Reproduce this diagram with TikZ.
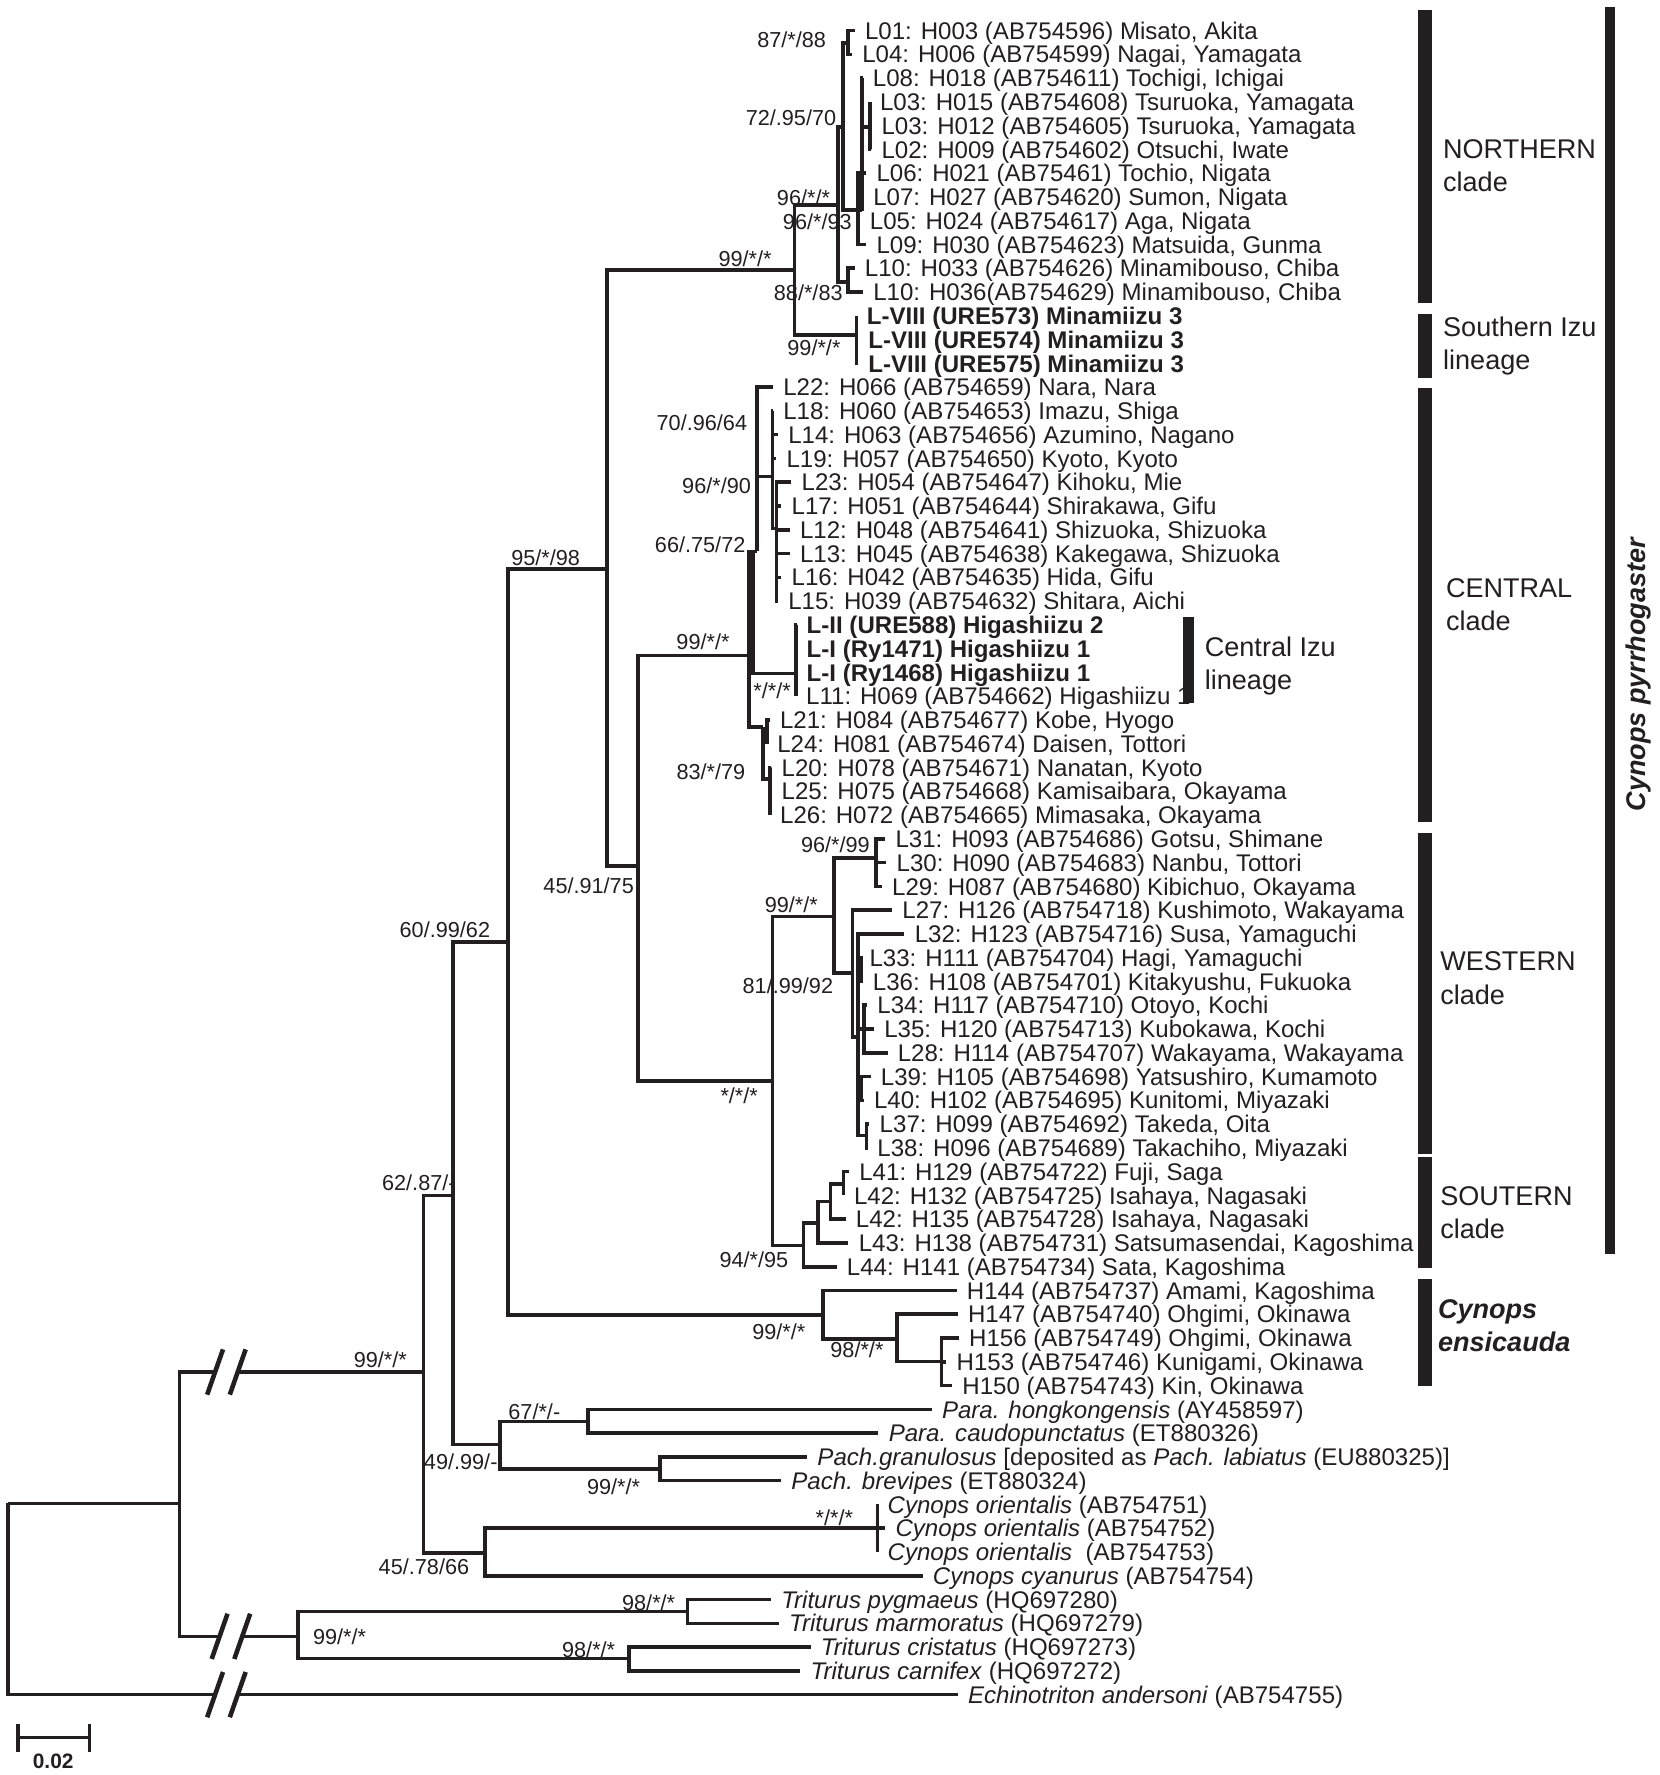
\documentclass[tikz,border=0pt]{standalone}
\usepackage{fontspec}
\setmainfont{Liberation Sans}
\definecolor{treeink}{HTML}{231F20}

\begin{document}
\begin{tikzpicture}[
    x=0.02cm, y=-0.02cm,
    br/.style={draw=treeink, line width=1.8pt},
    brkmark/.style={draw=treeink, line width=2.3pt},
    leaf/.style={anchor=west, inner xsep=5pt, inner ysep=0pt, text height=8.7pt, text depth=0pt, text=treeink, font=\fontsize{12.1}{14}\selectfont},
    boldleaf/.style={leaf, font=\fontsize{12.1}{14}\selectfont\bfseries},
    support/.style={inner sep=0pt, text height=7.8pt, text depth=0pt, text=treeink, font=\fontsize{10.9}{13}\selectfont},
    cladetext/.style={anchor=base west, inner sep=0pt, text=treeink, font=\fontsize{13.6}{16}\selectfont},
    cladebar/.style={draw=treeink, line width=6.8pt},
    axbreak/.pic={
        \fill[white] (-17,20) -- (-3,-20) -- (17,-20) -- (3,20) -- cycle;
        \draw[brkmark] (-17,20) -- (-3,-20);
        \draw[brkmark] (3,20) -- (17,-20);
    },
]
    \useasboundingbox (0,0) rectangle (1466,1568);

    % =====================================================================
    % internal nodes
    % =====================================================================
    \coordinate (root) at (7,1328);
    \coordinate (outg) at (158.7,1328);
    \coordinate (ingr) at (374,1212);
    \coordinate (trit) at (263.4,1445.5);
    \coordinate (n60) at (400.4,1056);
    \coordinate (cyno) at (428.3,1372);
    \coordinate (n95) at (449,832);
    \coordinate (ppnode) at (441.6,1276);
    \coordinate (n45) at (536,502.8);
    \coordinate (ensi) at (727.2,1161.4);

    % northern + southern Izu
    \coordinate (north) at (702,238.5);
    \coordinate (nq) at (740.4,181);
    \coordinate (nr) at (744.8,112);
    \coordinate (n0104) at (749.2,38);
    \coordinate (ns) at (758,185.5);
    \coordinate (nt) at (761.5,186);
    \coordinate (n3) at (768.3,112);
    \coordinate (nl10) at (749.2,249);
    \coordinate (sizu) at (756.6,296);

    % central
    \coordinate (wsn) at (563.7,765);
    \coordinate (nd) at (661.8,579);
    \coordinate (ne) at (665.3,487);
    \coordinate (na) at (668.8,487);
    \coordinate (nb) at (682.4,421);
    \coordinate (nc) at (686,467);
    \coordinate (hig) at (703,595);
    \coordinate (nf) at (674,642);
    \coordinate (ng) at (677.5,646);
    \coordinate (nh) at (680,688);

    % western + soutern
    \coordinate (wwn) at (682.5,955);
    \coordinate (x1) at (736.5,809.6);
    \coordinate (x2) at (774,758.1);
    \coordinate (x4) at (752.9,859.7);
    \coordinate (x5) at (757.8,916);
    \coordinate (ca) at (760.7,856);
    \coordinate (cb) at (763.2,909);
    \coordinate (cc) at (761.2,961);
    \coordinate (cd) at (765.6,1003);
    \coordinate (s1) at (709.8,1100.4);
    \coordinate (s2) at (722.5,1080.4);
    \coordinate (s3) at (733.8,1061.3);
    \coordinate (s4) at (745.3,1046);

    % ensicauda + outgroups
    \coordinate (e2) at (792.5,1182.8);
    \coordinate (e3) at (831.6,1202.6);
    \coordinate (para) at (519.6,1255.6);
    \coordinate (pach) at (583,1297.6);
    \coordinate (orie) at (775,1350);
    \coordinate (tpm) at (607.5,1423.5);
    \coordinate (tcc) at (555.7,1465.2);

    % =====================================================================
    % leaves
    % =====================================================================
    \node[leaf] (h003) at (755,27) {L01: H003 (AB754596) Misato, Akita};
    \node[leaf] (h006) at (752.6,48) {L04: H006 (AB754599) Nagai, Yamagata};
    \node[leaf] (h018) at (762,69) {L08: H018 (AB754611) Tochigi, Ichigai};
    \node[leaf] (h015) at (768.3,90) {L03: H015 (AB754608) Tsuruoka, Yamagata};
    \node[leaf] (h012) at (769.6,111) {L03: H012 (AB754605) Tsuruoka, Yamagata};
    \node[leaf] (h009) at (769.6,132) {L02: H009 (AB754602) Otsuchi, Iwate};
    \node[leaf] (h021) at (765.2,153) {L06: H021 (AB75461) Tochio, Nigata};
    \node[leaf] (h027) at (762.3,174) {L07: H027 (AB754620) Sumon, Nigata};
    \node[leaf] (h024) at (759.3,195) {L05: H024 (AB754617) Aga, Nigata};
    \node[leaf] (h030) at (765.2,216) {L09: H030 (AB754623) Matsuida, Gunma};
    \node[leaf] (h033) at (754.9,237) {L10: H033 (AB754626) Minamibouso, Chiba};
    \node[leaf] (h036) at (762.3,258) {L10: H036(AB754629) Minamibouso, Chiba};
    \node[boldleaf] (ure573) at (756.6,279) {L-VIII (URE573) Minamiizu 3};
    \node[boldleaf] (ure574) at (757.9,300) {L-VIII (URE574) Minamiizu 3};
    \node[boldleaf] (ure575) at (757.9,321) {L-VIII (URE575) Minamiizu 3};

    \node[leaf] (h066) at (682.8,342) {L22: H066 (AB754659) Nara, Nara};
    \node[leaf] (h060) at (682.8,363) {L18: H060 (AB754653) Imazu, Shiga};
    \node[leaf] (h063) at (687.2,384) {L14: H063 (AB754656) Azumino, Nagano};
    \node[leaf] (h057) at (685.7,405) {L19: H057 (AB754650) Kyoto, Kyoto};
    \node[leaf] (h054) at (699,426) {L23: H054 (AB754647) Kihoku, Mie};
    \node[leaf] (h051) at (690.2,447) {L17: H051 (AB754644) Shirakawa, Gifu};
    \node[leaf] (h048) at (697.6,468) {L12: H048 (AB754641) Shizuoka, Shizuoka};
    \node[leaf] (h045) at (697.6,489) {L13: H045 (AB754638) Kakegawa, Shizuoka};
    \node[leaf] (h042) at (690.2,510) {L16: H042 (AB754635) Hida, Gifu};
    \node[leaf] (h039) at (687.2,531) {L15: H039 (AB754632) Shitara, Aichi};
    \node[boldleaf] (ure588) at (703.5,552) {L-II (URE588) Higashiizu 2};
    \node[boldleaf] (ry1471) at (703.5,573) {L-I (Ry1471) Higashiizu 1};
    \node[boldleaf] (ry1468) at (703.5,594) {L-I (Ry1468) Higashiizu 1};
    \node[leaf] (h069) at (703,615) {L11: H069 (AB754662) Higashiizu 1};
    \node[leaf] (h084) at (679.9,636) {L21: H084 (AB754677) Kobe, Hyogo};
    \node[leaf] (h081) at (677.5,657) {L24: H081 (AB754674) Daisen, Tottori};
    \node[leaf] (h078) at (681.4,678) {L20: H078 (AB754671) Nanatan, Kyoto};
    \node[leaf] (h075) at (681.4,699) {L25: H075 (AB754668) Kamisaibara, Okayama};
    \node[leaf] (h072) at (680,720) {L26: H072 (AB754665) Mimasaka, Okayama};

    \node[leaf] (h093) at (782,741) {L31: H093 (AB754686) Gotsu, Shimane};
    \node[leaf] (h090) at (783,762) {L30: H090 (AB754683) Nanbu, Tottori};
    \node[leaf] (h087) at (779,783) {L29: H087 (AB754680) Kibichuo, Okayama};
    \node[leaf] (h126) at (788,804) {L27: H126 (AB754718) Kushimoto, Wakayama};
    \node[leaf] (h123) at (799,825) {L32: H123 (AB754716) Susa, Yamaguchi};
    \node[leaf] (h111) at (759,846) {L33: H111 (AB754704) Hagi, Yamaguchi};
    \node[leaf] (h108) at (762,867) {L36: H108 (AB754701) Kitakyushu, Fukuoka};
    \node[leaf] (h117) at (766,888) {L34: H117 (AB754710) Otoyo, Kochi};
    \node[leaf] (h120) at (772,909) {L35: H120 (AB754713) Kubokawa, Kochi};
    \node[leaf] (h114) at (784,930) {L28: H114 (AB754707) Wakayama, Wakayama};
    \node[leaf] (h105) at (769,951) {L39: H105 (AB754698) Yatsushiro, Kumamoto};
    \node[leaf] (h102) at (763,972) {L40: H102 (AB754695) Kunitomi, Miyazaki};
    \node[leaf] (h099) at (768,993) {L37: H099 (AB754692) Takeda, Oita};
    \node[leaf] (h096) at (766,1014) {L38: H096 (AB754689) Takachiho, Miyazaki};
    \node[leaf] (h129) at (750,1035) {L41: H129 (AB754722) Fuji, Saga};
    \node[leaf] (h132) at (745.3,1056) {L42: H132 (AB754725) Isahaya, Nagasaki};
    \node[leaf] (h135) at (747,1077) {L42: H135 (AB754728) Isahaya, Nagasaki};
    \node[leaf] (h138) at (749.5,1098) {L43: H138 (AB754731) Satsumasendai, Kagoshima};
    \node[leaf] (h141) at (739,1119) {L44: H141 (AB754734) Sata, Kagoshima};

    \node[leaf] (h144) at (845,1140) {H144 (AB754737) Amami, Kagoshima};
    \node[leaf] (h147) at (846,1161) {H147 (AB754740) Ohgimi, Okinawa};
    \node[leaf] (h156) at (847,1182) {H156 (AB754749) Ohgimi, Okinawa};
    \node[leaf] (h153) at (836,1203) {H153 (AB754746) Kunigami, Okinawa};
    \node[leaf] (h150) at (841,1224) {H150 (AB754743) Kin, Okinawa};
    \node[leaf] (phong) at (823,1245) {\textit{Para. hongkongensis} (AY458597)};
    \node[leaf] (pcaud) at (776,1266) {\textit{Para. caudopunctatus} (ET880326)};
    \node[leaf] (pgran) at (713,1287) {\textit{Pach.granulosus} [deposited as \textit{Pach. labiatus} (EU880325)]};
    \node[leaf] (pbrev) at (690,1308) {\textit{Pach. brevipes} (ET880324)};
    \node[leaf] (cori1) at (775,1329) {\textit{Cynops orientalis} (AB754751)};
    \node[leaf] (cori2) at (782,1350) {\textit{Cynops orientalis} (AB754752)};
    \node[leaf] (cori3) at (775,1371) {\textit{Cynops orientalis} \ (AB754753)};
    \node[leaf] (ccyan) at (815,1392) {\textit{Cynops cyanurus} (AB754754)};
    \node[leaf] (tpyg) at (681,1413) {\textit{Triturus pygmaeus} (HQ697280)};
    \node[leaf] (tmarm) at (688,1434) {\textit{Triturus marmoratus} (HQ697279)};
    \node[leaf] (tcris) at (716,1455) {\textit{Triturus cristatus} (HQ697273)};
    \node[leaf] (tcarn) at (707,1476) {\textit{Triturus carnifex} (HQ697272)};
    \node[leaf] (echi) at (846,1497) {\textit{Echinotriton andersoni} (AB754755)};

    % =====================================================================
    % branches
    % =====================================================================
    \draw[br] (root) |- (outg) (root) |- (echi.west);
    \draw[br] (outg) |- (ingr) (outg) |- (trit);
    \draw[br] (ingr) |- (n60) (ingr) |- (cyno);
    \draw[br] (n60) |- (n95) (n60) |- (ppnode);
    \draw[br] (n95) |- (n45) (n95) |- (ensi);
    \draw[br] (n45) |- (north) (n45) |- (wsn);

    % Northern clade, southern Izu
    \draw[br] (north) |- (nq) (north) |- (sizu);
    \draw[br] (nq) |- (nr) (nq) |- (nl10);
    \draw[br] (nr) |- (n0104) (nr) |- (ns);
    \draw[br] (n0104) |- (h003.west) (n0104) |- (h006.west);
    \draw[br] (ns) |- (nt) (ns) |- (h021.west) (ns) |- (h024.west) (ns) |- (h030.west);
    \draw[br] (nt) |- (h018.west) (nt) |- (n3) (nt) |- (h027.west);
    \draw[br] (n3) |- (h015.west) (n3) |- (h012.west) (n3) |- (h009.west);
    \draw[br] (nl10) |- (h033.west) (nl10) |- (h036.west);
    \draw[br] (sizu) |- (ure573.west) (sizu) |- (ure574.west) (sizu) |- (ure575.west);

    % Central clade
    \draw[br] (wsn) |- (nd) (wsn) |- (wwn);
    \draw[br] (nd) |- (ne) (nd) |- (nf);
    \draw[br] (ne) |- (na) (ne) |- (hig);
    \draw[br] (na) |- (h066.west) (na) |- (nb);
    \draw[br] (nb) |- (h060.west) (nb) |- (h063.west) (nb) |- (h057.west) (nb) |- (nc);
    \draw[br] (nc) |- (h054.west) (nc) |- (h051.west) (nc) |- (h048.west)
              (nc) |- (h045.west) (nc) |- (h042.west) (nc) |- (h039.west);
    \draw[br] (hig) |- (ure588.west) (hig) |- (ry1471.west) (hig) |- (ry1468.west) (hig) |- (h069.west);
    \draw[br] (nf) |- (ng) (nf) |- (nh);
    \draw[br] (ng) |- (h084.west) (ng) |- (h081.west);
    \draw[br] (nh) |- (h078.west) (nh) |- (h075.west) (nh) |- (h072.west);

    % Western and Soutern clades
    \draw[br] (wwn) |- (x1) (wwn) |- (s1);
    \draw[br] (x1) |- (x2) (x1) |- (x4);
    \draw[br] (x2) |- (h093.west) (x2) |- (h090.west) (x2) |- (h087.west);
    \draw[br] (x4) |- (h126.west) (x4) |- (x5);
    \draw[br] (x5) |- (h123.west) (x5) |- (ca) (x5) |- (cb) (x5) |- (cc) (x5) |- (cd);
    \draw[br] (ca) |- (h111.west) (ca) |- (h108.west);
    \draw[br] (cb) |- (h117.west) (cb) |- (h120.west) (cb) |- (h114.west);
    \draw[br] (cc) |- (h105.west) (cc) |- (h102.west);
    \draw[br] (cd) |- (h099.west) (cd) |- (h096.west);
    \draw[br] (s1) |- (s2) (s1) |- (h141.west);
    \draw[br] (s2) |- (s3) (s2) |- (h138.west);
    \draw[br] (s3) |- (s4) (s3) |- (h135.west);
    \draw[br] (s4) |- (h129.west) (s4) |- (h132.west);

    % C. ensicauda and outgroups
    \draw[br] (ensi) |- (h144.west) (ensi) |- (e2);
    \draw[br] (e2) |- (h147.west) (e2) |- (e3);
    \draw[br] (e3) |- (h156.west) (e3) |- (h153.west) (e3) |- (h150.west);
    \draw[br] (ppnode) |- (para) (ppnode) |- (pach);
    \draw[br] (para) |- (phong.west) (para) |- (pcaud.west);
    \draw[br] (pach) |- (pgran.west) (pach) |- (pbrev.west);
    \draw[br] (cyno) |- (orie) (cyno) |- (ccyan.west);
    \draw[br] (orie) |- (cori1.west) (orie) |- (cori2.west) (orie) |- (cori3.west);
    \draw[br] (trit) |- (tpm) (trit) |- (tcc);
    \draw[br] (tpm) |- (tpyg.west) (tpm) |- (tmarm.west);
    \draw[br] (tcc) |- (tcris.west) (tcc) |- (tcarn.west);

    % broken long branches
    \pic at (200,1212) {axbreak};
    \pic at (204,1445.5) {axbreak};
    \pic at (200,1497) {axbreak};

    % =====================================================================
    % support values
    % =====================================================================
    \node[support, anchor=east] (bs01) at (730,35) {87/*/88};
    \node[support, anchor=east] (bs02) at (739,104) {72/.95/70};
    \node[support, anchor=west] (bs03) at (686,175) {96/*/*};
    \node[support] (bs04) at (722,196) {96/*/93};
    \node[support, anchor=east] (bs05) at (682,229) {99/*/*};
    \node[support] (bs06) at (714,259) {88/*/83};
    \node[support] (bs07) at (719,307) {99/*/*};
    \node[support] (bs08) at (620,373) {70/.96/64};
    \node[support] (bs09) at (633,429) {96/*/90};
    \node[support] (bs10) at (618.5,481) {66/.75/72};
    \node[support] (bs11) at (621,567) {99/*/*};
    \node[support] (bs12) at (682,610) {*/*/*};
    \node[support] (bs13) at (628,682) {83/*/79};
    \node[support] (bs14) at (520,782) {45/.91/75};
    \node[support] (bs15) at (482,493) {95/*/98};
    \node[support] (bs16) at (393,821) {60/.99/62};
    \node[support] (bs17) at (738,746) {96/*/99};
    \node[support] (bs18) at (699,799) {99/*/*};
    \node[support] (bs19) at (696,871) {81/.99/92};
    \node[support] (bs20) at (653,968) {*/*/*};
    \node[support] (bs21) at (666,1113) {94/*/95};
    \node[support] (bs22) at (370,1045) {62/.87/-};
    \node[support] (bs23) at (688,1176) {99/*/*};
    \node[support] (bs24) at (757,1192) {98/*/*};
    \node[support] (bs25) at (336,1201) {99/*/*};
    \node[support] (bs26) at (472,1247) {67/*/-};
    \node[support] (bs27) at (407,1291) {49/.99/-};
    \node[support] (bs28) at (542,1313) {99/*/*};
    \node[support] (bs29) at (737,1341) {*/*/*};
    \node[support] (bs30) at (374.5,1384) {45/.78/66};
    \node[support] (bs31) at (573,1416) {98/*/*};
    \node[support] (bs32) at (300,1446) {99/*/*};
    \node[support] (bs33) at (520,1457) {98/*/*};

    % =====================================================================
    % clade bars and names
    % =====================================================================
    \draw[cladebar] (1258.6,9) -- (1258.6,268);
    \draw[cladebar] (1258.6,277) -- (1258.6,334);
    \draw[cladebar] (1258.6,343) -- (1258.6,726);
    \draw[cladebar] (1258.6,736) -- (1258.6,1019);
    \draw[cladebar] (1258.6,1022) -- (1258.6,1120);
    \draw[cladebar] (1258.6,1130) -- (1258.6,1224);
    \draw[cladebar, line width=5.1pt] (1422,6) -- (1422,1108);
    \draw[cladebar, line width=5.7pt] (1050,545) -- (1050,621);

    \node[cladetext] (northA) at (1274.5,140) {NORTHERN};
    \node[cladetext] (northB) at (1274.5,169.5) {clade};
    \node[cladetext] (sizuA) at (1274.5,297.4) {Southern Izu};
    \node[cladetext] (sizuB) at (1274.5,326.8) {lineage};
    \node[cladetext] (centA) at (1277,527.5) {CENTRAL};
    \node[cladetext] (centB) at (1277,557) {clade};
    \node[cladetext] (westA) at (1272,857.5) {WESTERN};
    \node[cladetext] (westB) at (1272,887) {clade};
    \node[cladetext] (soutA) at (1272,1064.5) {SOUTERN};
    \node[cladetext] (soutB) at (1272,1094) {clade};
    \node[cladetext, font=\fontsize{13.6}{16}\selectfont\bfseries\itshape] (ensA) at (1270,1164.5) {Cynops};
    \node[cladetext, font=\fontsize{13.6}{16}\selectfont\bfseries\itshape] (ensB) at (1270,1194) {ensicauda};
    \node[cladetext] (cizuA) at (1064,579.5) {Central Izu};
    \node[cladetext] (cizuB) at (1064,609) {lineage};
    \node[text=treeink, inner sep=0pt, rotate=90, font=\fontsize{13.6}{16}\selectfont\bfseries\itshape] (pyrr) at (1447,596) {Cynops pyrrhogaster};

    % scale bar
    \coordinate (sbl) at (16,1535);
    \coordinate (sbr) at (79,1535);
    \draw[br] (sbl) -- (sbr) ([yshift=-7]sbl) -- ([yshift=7]sbl) ([yshift=-7]sbr) -- ([yshift=7]sbr);
    \node[text=treeink, inner sep=0pt, font=\fontsize{10.5}{12}\selectfont\bfseries] (sblab) at (47,1556) {0.02};

\end{tikzpicture}
\end{document}
